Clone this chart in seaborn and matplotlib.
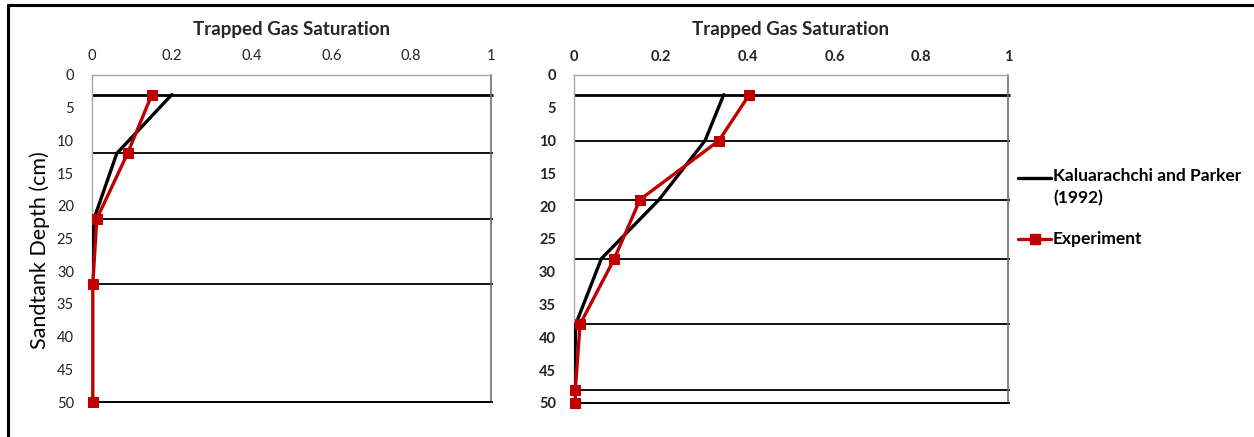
import matplotlib
matplotlib.use("Agg")
import matplotlib.pyplot as plt
from matplotlib.lines import Line2D
import seaborn as sns

sns.set_theme(style="white")
plt.rcParams["font.family"] = ["Lato", "DejaVu Sans"]

# Panel A: trapped gas saturation profile, first test
model_a_sat = [0.20, 0.062, 0.005, 0.0, 0.0]
model_a_depth = [3, 12, 22, 32, 50]
exp_a_sat = [0.15, 0.089, 0.012, 0.002, 0.002]
exp_a_depth = [3, 12, 22, 32, 50]
layers_a = [3, 12, 22, 32, 50]

# Panel B: trapped gas saturation profile, second test
model_b_sat = [0.345, 0.302, 0.196, 0.063, 0.004, 0.0]
model_b_depth = [3, 10, 19, 28, 38, 48]
exp_b_sat = [0.404, 0.334, 0.152, 0.093, 0.014, 0.003, 0.003]
exp_b_depth = [3, 10, 19, 28, 38, 48, 50]
layers_b = [3, 10, 19, 28, 38, 48, 50]

x_ticks = [0, 0.2, 0.4, 0.6, 0.8, 1]
x_tick_labels = ["0", "0.2", "0.4", "0.6", "0.8", "1"]
y_ticks = list(range(0, 55, 5))

title_text = "Trapped Gas Saturation"
ylabel_text = "Sandtank Depth (cm)"
model_label = "Kaluarachchi and Parker\n(1992)"
exp_label = "Experiment"

RED = "#c00000"
W, H = 1254, 437
fig = plt.figure(figsize=(W / 100, H / 100), dpi=100)


def box(x0, y0, x1, y1):
    return [x0 / W, 1 - y1 / H, (x1 - x0) / W, (y1 - y0) / H]


def fx(px):
    return px / W


def fy(py):
    return 1 - py / H


ax_a = fig.add_axes(box(92, 75, 491, 402))
ax_b = fig.add_axes(box(574, 75, 1008, 403))


def draw_panel(ax, m_sat, m_depth, e_sat, e_depth, layers, bold_ticks, x_pad):
    for i, d in enumerate(layers):
        ax.hlines(d, 0, 1.005, color="black", lw=2.0 if i == 0 else 1.3,
                  clip_on=False, zorder=1)
    sns.lineplot(x=m_sat, y=m_depth, orient="y", estimator=None,
                 color="black", lw=2.4, ax=ax, zorder=3)
    sns.lineplot(x=e_sat, y=e_depth, orient="y", estimator=None,
                 color=RED, lw=2.4, marker="s", markersize=7,
                 markeredgecolor=RED, ax=ax, zorder=4, clip_on=False)
    ax.set_xlim(0, 1)
    ax.set_ylim(50, 0)
    ax.xaxis.tick_top()
    ax.set_xticks(x_ticks)
    ax.set_xticklabels(x_tick_labels)
    ax.set_yticks(y_ticks)
    weight = "bold" if bold_ticks else "normal"
    ax.tick_params(axis="x", length=0, pad=x_pad, labelsize=10.5, labelcolor="#222222")
    ax.tick_params(axis="y", length=0, pad=13, labelsize=10.5, labelcolor="#222222")
    for lab in ax.get_xticklabels() + ax.get_yticklabels():
        lab.set_fontweight(weight)
    ax.text(0.5, 1.0 + 45 / 327, title_text, transform=ax.transAxes,
            ha="center", va="center", fontsize=13.5, fontweight="bold")
    ax.set_xlabel("")
    ax.set_ylabel("")
    for side in ["top", "left"]:
        ax.spines[side].set_color("#a6a6a6")
        ax.spines[side].set_linewidth(1.0)
    ax.spines["right"].set_color("#707070")
    ax.spines["right"].set_linewidth(1.2)
    ax.spines["bottom"].set_color("black")
    ax.spines["bottom"].set_linewidth(1.2)


draw_panel(ax_a, model_a_sat, model_a_depth, exp_a_sat, exp_a_depth, layers_a, False, 9)
draw_panel(ax_b, model_b_sat, model_b_depth, exp_b_sat, exp_b_depth, layers_b, True, 8)

fig.text(fx(40), fy(250), ylabel_text, rotation=90, fontsize=15.5,
         ha="center", va="center", color="black")

# legend
leg_font = {"fontsize": 12.5, "fontweight": "bold", "color": "black"}
fig.add_artist(Line2D([fx(1018), fx(1051)], [fy(178), fy(178)], color="black",
                      lw=2.4, transform=fig.transFigure))
fig.text(fx(1053), fy(168), model_label, ha="left", va="top",
         linespacing=1.45, **leg_font)
fig.add_artist(Line2D([fx(1018), fx(1051)], [fy(239), fy(239)], color=RED,
                      lw=2.4, transform=fig.transFigure))
fig.add_artist(Line2D([fx(1034.5)], [fy(239)], color=RED, marker="s",
                      markersize=7, transform=fig.transFigure))
fig.text(fx(1053), fy(239), exp_label, ha="left", va="center", **leg_font)

# outer frame
fig.add_artist(Line2D([fx(8), fx(8)], [0, fy(5)], color="black", lw=2.2,
                      transform=fig.transFigure))
fig.add_artist(Line2D([fx(8), 1], [fy(5), fy(5)], color="black", lw=2.2,
                      transform=fig.transFigure))

fig.savefig("out.png", dpi=100, facecolor="white")
